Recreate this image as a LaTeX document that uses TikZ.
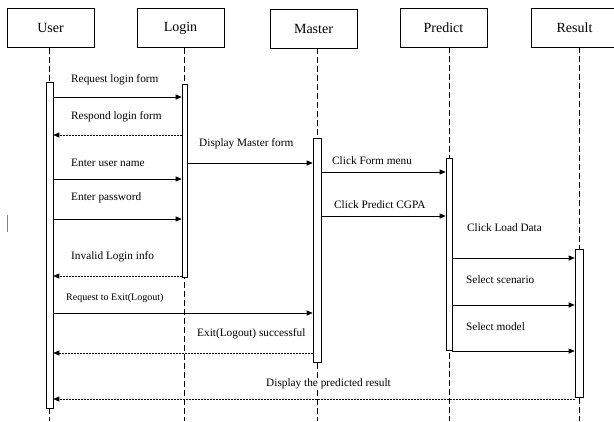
\documentclass[tikz,border=0pt]{standalone}
\usepackage{fontspec}
\setmainfont{Liberation Serif}
\usetikzlibrary{arrows.meta}

\begin{document}
\begin{tikzpicture}[
  x=1pt, y=-1pt,
  head/.style={rectangle, draw, line width=0.7pt, minimum width=87pt, minimum height=39pt, font=\fontsize{14}{16}\selectfont},
  bar/.style={rectangle, draw, fill=white, inner sep=0pt, line width=0.6pt},
  life/.style={dash pattern=on 6pt off 3pt, line width=0.6pt},
  call/.style={-{Triangle[length=6pt, width=5pt]}, line width=0.7pt},
  reply/.style={call, dash pattern=on 2pt off 1pt},
  lbl/.style={anchor=west, inner sep=0pt, font=\fontsize{11.3}{13}\selectfont}
]
\useasboundingbox (0,0) rectangle (614,421);
% object heads
\node[head] (user) at (50.5,28) {User};
\node[head] (login) at (180.5,28) {Login};
\node[head] (master) at (313.5,28.5) {Master};
\node[head] (predict) at (443.5,27.5) {Predict};
\node[head] (result) at (574.5,27.5) {Result};
% lifelines
\coordinate (uend) at (49,421);
\coordinate (lend) at (184,421);
\coordinate (mend) at (317,421);
\coordinate (pend) at (449,421);
\coordinate (rend) at (579,421);
\draw[life] (user.south -| uend) -- (uend);
\draw[life] (login.south -| lend) -- (lend);
\draw[life] (master.south -| mend) -- (mend);
\draw[life] (predict.south -| pend) -- (pend);
\draw[life] (result.south -| rend) -- (rend);
% activation bars
\node[bar, minimum width=7pt, minimum height=326pt] (ubar) at (49.5,245) {};
\node[bar, minimum width=5pt, minimum height=193pt] (lbar) at (184.5,180.5) {};
\node[bar, minimum width=8pt, minimum height=224pt] (mbar) at (317,250) {};
\node[bar, minimum width=6pt, minimum height=192pt] (pbar) at (449,254) {};
\node[bar, minimum width=8pt, minimum height=148pt] (rbar) at (579,323) {};
% messages
\draw[call] (ubar.east |- 0,97) -- (lbar.west |- 0,97);
\draw[reply] (lbar.west |- 0,135) -- (ubar.east |- 0,135);
\draw[call] (lbar.east |- 0,163) -- (mbar.west |- 0,163);
\draw[call] (ubar.east |- 0,179) -- (lbar.west |- 0,179);
\draw[call] (ubar.east |- 0,219) -- (lbar.west |- 0,219);
\draw[reply] (lbar.west |- 0,276) -- (ubar.east |- 0,276);
\draw[call] (mbar.east |- 0,172) -- (pbar.west |- 0,172);
\draw[call] (mbar.east |- 0,216) -- (pbar.west |- 0,216);
\draw[call] (pbar.east |- 0,258) -- (rbar.west |- 0,258);
\draw[call] (pbar.east |- 0,305) -- (rbar.west |- 0,305);
\draw[call] (pbar.east |- 0,351) -- (rbar.west |- 0,351);
\draw[call] (ubar.east |- 0,313) -- (mbar.west |- 0,313);
\draw[reply] (mbar.west |- 0,353) -- (ubar.east |- 0,353);
\draw[reply] (rbar.west |- 0,399) -- (ubar.east |- 0,399);
% labels
\node[lbl] (t1) at (71,80) {Request login form};
\node[lbl] (t2) at (71,117) {Respond login form};
\node[lbl] (t3) at (199,144) {Display Master form};
\node[lbl] (t4) at (71,163) {Enter user name};
\node[lbl] (t5) at (71,198) {Enter password};
\node[lbl] (t6) at (71,257) {Invalid Login info};
\node[lbl] (t7) at (332,161) {Click Form menu};
\node[lbl] (t8) at (334,205) {Click Predict CGPA};
\node[lbl] (t9) at (467,228) {Click Load Data};
\node[lbl] (t10) at (466,280) {Select scenario};
\node[lbl] (t11) at (466,327) {Select model};
\node[lbl, font=\fontsize{10}{12}\selectfont] (t12) at (66,298) {Request to Exit(Logout)};
\node[lbl] (t13) at (197,334) {Exit(Logout) successful};
\node[lbl, fill=white, inner sep=1pt] (t14) at (265,384) {Display the predicted result};
% stray mark
\draw[gray, line width=0.8pt] (7,215) -- (7,232);
\end{tikzpicture}
\end{document}
